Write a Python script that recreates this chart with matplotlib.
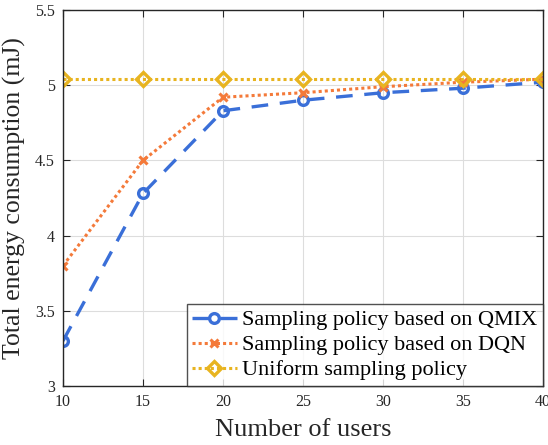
import matplotlib
matplotlib.use("Agg")
import matplotlib.pyplot as plt

users = [10, 15, 20, 25, 30, 35, 40]
qmix = [3.30, 4.28, 4.83, 4.90, 4.95, 4.98, 5.02]
dqn = [3.80, 4.50, 4.92, 4.95, 4.99, 5.02, 5.04]
uniform = [5.04, 5.04, 5.04, 5.04, 5.04, 5.04, 5.04]
labels = ["Sampling policy based on QMIX", "Sampling policy based on DQN", "Uniform sampling policy"]

plt.rcParams['font.family'] = ['Liberation Serif', 'DejaVu Serif']
fig = plt.figure(figsize=(5.48, 4.45), dpi=100)
ax = fig.add_axes([63/548, 1-386/445, (543-63)/548, (386-10)/445])

ax.plot(users, qmix, color='#3A6FD8', linestyle=(0, (5, 3.5)), linewidth=2.4,
        marker='o', markersize=7, markerfacecolor='none', markeredgewidth=2.4, label=labels[0])
ax.plot(users, dqn, color='#F47A3A', linestyle=(0, (1, 1)), linewidth=2.2,
        marker='x', markersize=5.5, markeredgewidth=2.2, label=labels[1])
ax.plot(users, uniform, color='#E8B420', linestyle=(0, (1, 1)), linewidth=2.2,
        marker='D', markersize=7, markerfacecolor='none', markeredgewidth=2.4, label=labels[2])

ax.set_xlim(10, 40)
ax.set_ylim(3, 5.5)
ax.set_xticks([10, 15, 20, 25, 30, 35, 40])
ax.set_yticks([3, 3.5, 4, 4.5, 5, 5.5])
ax.set_yticklabels(['3', '3.5', '4', '4.5', '5', '5.5'])
ax.grid(True, color='#DDDDDD', linewidth=0.8)
ax.set_axisbelow(True)
ax.tick_params(direction='in', top=True, right=True, labelsize=11.5, colors='#262626', length=5, pad=6)
for s in ax.spines.values():
    s.set_color('#262626')
    s.set_linewidth(1)
ax.set_xlabel('Number of users', fontsize=19, color='#262626', labelpad=6)
ax.set_ylabel('Total energy consumption (mJ)', fontsize=18.5, color='#262626', labelpad=6)

leg = ax.legend(loc='lower right', fontsize=16, frameon=True, fancybox=False,
                borderaxespad=0, handlelength=2.0, handletextpad=0.25,
                labelspacing=0.2, borderpad=0.25)
leg.get_frame().set_edgecolor('#262626')
leg.get_frame().set_linewidth(1)

fig.savefig('out.png', dpi=100)
